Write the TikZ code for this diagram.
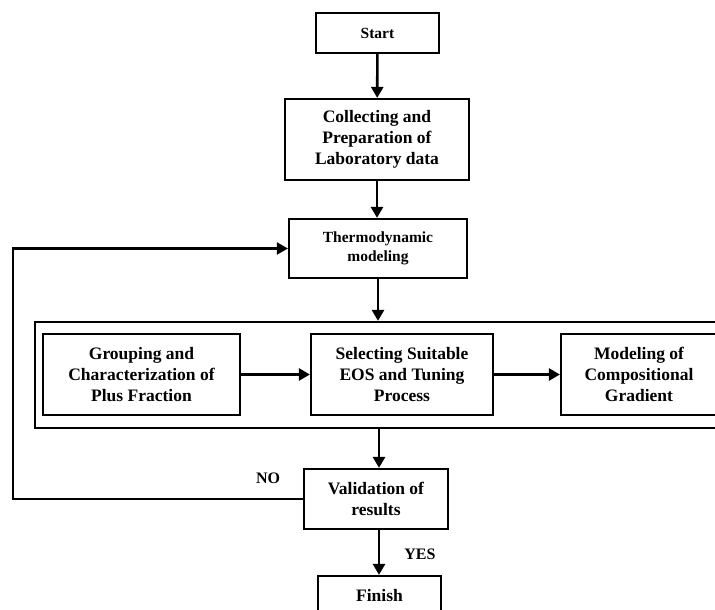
\documentclass[tikz,border=0pt]{standalone}
\usepackage{fontspec}
\setmainfont{Liberation Serif}
\usetikzlibrary{arrows.meta}

\begin{document}
\begin{tikzpicture}[x=1pt,y=-1pt,
        box/.style={draw, line width=2.2pt, align=center, inner sep=0pt,
            font=\bfseries\fontsize{17.5}{21}\selectfont},
        smallbox/.style={box, font=\bfseries\fontsize{15.5}{19}\selectfont},
        flow/.style={line width=2.6pt, -{Triangle[length=11pt,width=12pt]}},
        tag/.style={font=\bfseries\fontsize{16}{18}\selectfont}]
        \useasboundingbox (0,0) rectangle (715,610);
        \clip (0,0) rectangle (715,610);

        \node[smallbox, minimum width=123pt, minimum height=40pt] (start) at (377.5,33) {Start};
        \node[box, minimum width=184pt, minimum height=81pt] (collect) at (377,139.5)
            {Collecting and\\Preparation of\\Laboratory data};
        \node[smallbox, minimum width=178pt, minimum height=59pt] (thermo) at (378,248.5)
            {Thermodynamic\\modeling};

        % tuning stage
        \node[draw, line width=2.2pt, minimum width=695pt, minimum height=106pt] (stage) at (382.5,375) {};
        \node[box, minimum width=197pt, minimum height=81pt] (group) at (141.5,374.5)
            {Grouping and\\Characterization of\\Plus Fraction};
        \node[box, minimum width=182pt, minimum height=81pt] (select) at (402,374.5)
            {Selecting Suitable\\EOS and Tuning\\Process};
        \node[box, minimum width=156pt, minimum height=81pt] (grad) at (639,374.5)
            {Modeling of\\Compositional\\Gradient};

        \node[box, minimum width=144pt, minimum height=60pt] (valid) at (376,499)
            {Validation of\\results};
        \node[box, minimum width=123pt, minimum height=40pt] (finish) at (379.5,596) {Finish};

        \node[tag] (no) at (268,478) {NO};
        \node[tag] (yes) at (420,554) {YES};
        \coordinate (loop) at (13,499);

        \draw[flow] (start) -- (collect);
        \draw[flow] (collect.south) -- (collect.south |- thermo.north);
        \draw[flow] (thermo.south) -- (thermo.south |- stage.north);
        \draw[flow] (group) -- (select);
        \draw[flow] (select) -- (grad);
        \draw[flow] (valid.north -| 379,0) ++(0,-41) -- (valid.north -| 379,0);
        \draw[flow] (valid.south -| 379,0) -- (finish.north -| 379,0);
        \draw[line width=2.2pt, -{Triangle[length=11pt,width=12pt]}] (valid.west) -- (loop) |- (thermo.west);
\end{tikzpicture}
\end{document}
